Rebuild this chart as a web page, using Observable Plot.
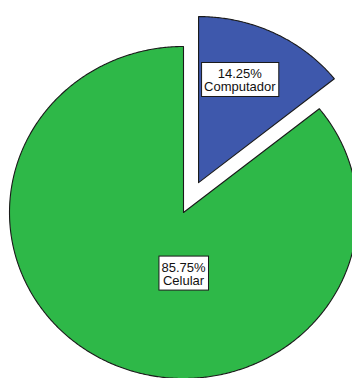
<!DOCTYPE html>
<html><head><meta charset="utf-8">
<script src="https://cdn.jsdelivr.net/npm/d3@7"></script>
<script src="https://cdn.jsdelivr.net/npm/@observablehq/plot@0.6"></script>
<style>body{margin:0;background:#fff} svg{display:block}</style>
</head><body><div id="chart"></div>
<script>
const categories = ["Computador", "Celular"];
const percents = [14.25, 85.75];
const colors = ["#3E58AC", "#2EB848"];
const exploded = [true, false];

const W = 352, H = 378;
const arcs = d3.pie().sort(null).value(d => d)(percents);
const shapes = [];
const labels = [];
arcs.forEach((a, i) => {
  const mid = (a.startAngle + a.endAngle) / 2;
  const off = exploded[i] ? 0.2 : 0;
  const cx = off * Math.sin(mid), cy = off * Math.cos(mid);
  const cat = categories[i];
  shapes.push({cat, x: cx, y: cy});
  const n = Math.max(2, Math.ceil((a.endAngle - a.startAngle) / (Math.PI / 360)));
  for (let k = 0; k <= n; k++) {
    const t = a.startAngle + (a.endAngle - a.startAngle) * k / n;
    shapes.push({cat, x: cx + Math.sin(t), y: cy + Math.cos(t)});
  }
  shapes.push({cat, x: cx, y: cy});
  const big = a.endAngle - a.startAngle > Math.PI;
  const la = big ? Math.PI : mid - 0.08;
  const lr = big ? 0.37 : 0.66;
  labels.push({x: cx + lr * Math.sin(la), y: cy + lr * Math.cos(la),
               text: `${percents[i].toFixed(2)}%\n${cat}`});
});

const chart = Plot.plot({
  width: W, height: H,
  margin: 0,
  x: {domain: [-183 / 174, 169 / 174], axis: null},
  y: {domain: [-1, 212 / 166], axis: null},
  color: {domain: categories, range: colors},
  style: {background: "#fff"},
  marks: [
    Plot.line(shapes, {x: "x", y: "y", z: "cat", fill: "cat", stroke: "#1a1a1a", strokeWidth: 1.1, curve: "linear"}),
    Plot.text(labels, {x: "x", y: "y", text: "text", fontSize: 13, fill: "#111",
      fontFamily: "Liberation Sans, Arial, sans-serif", lineHeight: 1.0, textAnchor: "middle"})
  ]
});
document.getElementById("chart").appendChild(chart);

// draw label boxes behind texts
chart.querySelectorAll('g[aria-label="text"] text').forEach(t => {
  const b = t.getBBox();
  const r = document.createElementNS("http://www.w3.org/2000/svg", "rect");
  const tr = t.getAttribute("transform");
  if (tr) r.setAttribute("transform", tr);
  r.setAttribute("x", b.x - 2.5);
  r.setAttribute("y", b.y - 3.5);
  r.setAttribute("width", b.width + 5);
  r.setAttribute("height", b.height + 6);
  r.setAttribute("fill", "#fff");
  r.setAttribute("stroke", "#1a1a1a");
  r.setAttribute("stroke-width", "1");
  t.parentNode.insertBefore(r, t);
});
</script>
</body></html>
